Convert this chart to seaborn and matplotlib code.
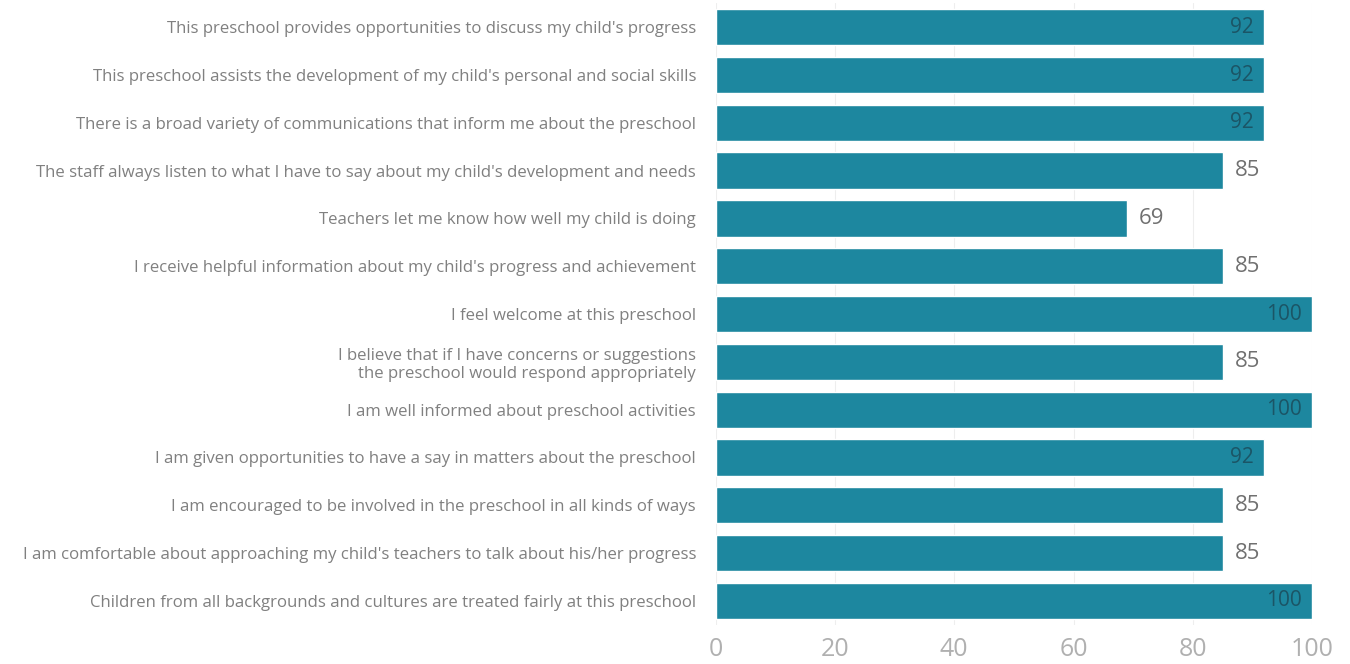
import matplotlib
matplotlib.use('Agg')
import matplotlib.pyplot as plt
import seaborn as sns
import pandas as pd

# 问卷题目与同意比例（%）
statements = [
    "This preschool provides opportunities to discuss my child's progress",
    "This preschool assists the development of my child's personal and social skills",
    "There is a broad variety of communications that inform me about the preschool",
    "The staff always listen to what I have to say about my child's development and needs",
    "Teachers let me know how well my child is doing",
    "I receive helpful information about my child's progress and achievement",
    "I feel welcome at this preschool",
    "I believe that if I have concerns or suggestions\nthe preschool would respond appropriately",
    "I am well informed about preschool activities",
    "I am given opportunities to have a say in matters about the preschool",
    "I am encouraged to be involved in the preschool in all kinds of ways",
    "I am comfortable about approaching my child's teachers to talk about his/her progress",
    "Children from all backgrounds and cultures are treated fairly at this preschool",
]
percent = [92, 92, 92, 85, 69, 85, 100, 85, 100, 92, 85, 85, 100]
x_ticks = [0, 20, 40, 60, 80, 100]

df = pd.DataFrame({'statement': statements, 'percent': percent})

sns.set_style('white')
plt.rcParams['font.family'] = ['Open Sans', 'DejaVu Sans']

fig = plt.figure(figsize=(13.5, 6.64), dpi=100)
ax = fig.add_axes([0.530, 0.059, 0.442, 0.936])

bar_color = '#1d879f'
sns.barplot(data=df, x='percent', y='statement', color=bar_color,
            width=0.76, saturation=1, ax=ax, orient='h')

# 数值标签：较长的条放在内部，较短的放在外部
for i, v in enumerate(percent):
    if v >= 90:
        ax.text(v - 1.8, i, str(v), ha='right', va='center',
                fontsize=15, color='#1b5566')
    else:
        ax.text(v + 2.0, i, str(v), ha='left', va='center',
                fontsize=16, color='#707070')

ax.set_xlim(0, 100)
ax.set_xticks(x_ticks)
ax.set_xlabel('')
ax.set_ylabel('')
ax.grid(axis='x', color='#eeeeee', linewidth=0.8)
ax.set_axisbelow(True)
for s in ax.spines.values():
    s.set_visible(False)
ax.tick_params(axis='y', length=0, pad=14, labelsize=12.1, labelcolor='#808080')
ax.tick_params(axis='x', length=0, pad=9, labelsize=18, labelcolor='#b0b0b0')
for lab in ax.get_yticklabels():
    lab.set_horizontalalignment('right')
    lab.set_multialignment('right')

fig.savefig('out.png', dpi=100)
